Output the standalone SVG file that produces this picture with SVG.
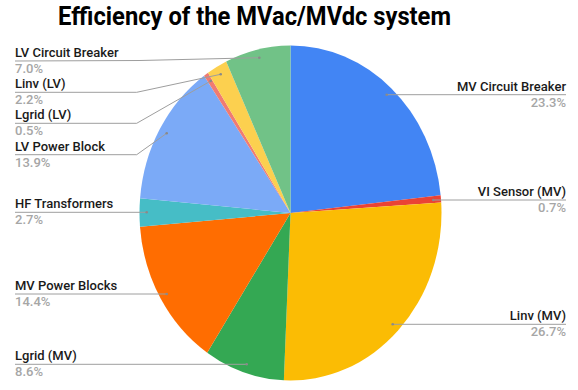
<svg xmlns="http://www.w3.org/2000/svg" width="578" height="390" viewBox="0 0 578 390">
<style>
.title{font-family:Roboto,"Liberation Sans",sans-serif;font-weight:700;font-size:25px;fill:#000}
.lbl{font-family:Roboto,"Liberation Sans",sans-serif;font-weight:500;font-size:13px;fill:#1a1a1a}
.pct{font-family:Roboto,"Liberation Sans",sans-serif;font-weight:500;font-size:13px;fill:#a6a6a6}
.r{text-anchor:end}
.lead{fill:none;stroke:#9e9e9e;stroke-width:1}
.dot{fill:#8a8a8a}
</style>
<rect width="578" height="390" fill="#fff"/>
<text class="title" x="58" y="24.5" textLength="393" lengthAdjust="spacingAndGlyphs">Efficiency of the MVac/MVdc system</text>
<g id="pie">
<path id="s-mvcb" d="M290.5 213 L290.5 45.5 A151 167.5 0 0 1 440.64 195.14 Z" fill="#4285F4"/>
<path id="s-vi" d="M290.5 213 L440.64 195.14 A151 167.5 0 0 1 441.2 202.48 Z" fill="#EA4335"/>
<path id="s-linvmv" d="M290.5 213 L441.2 202.48 A151 167.5 0 0 1 283.86 380.33 Z" fill="#FBBC04"/>
<path id="s-lgridmv" d="M290.5 213 L283.86 380.33 A151 167.5 0 0 1 207.2 352.7 Z" fill="#34A853"/>
<path id="s-mvpb" d="M290.5 213 L207.2 352.7 A151 167.5 0 0 1 140.0 226.67 Z" fill="#FF6D01"/>
<path id="s-hf" d="M290.5 213 L140.0 226.67 A151 167.5 0 0 1 140.08 198.28 Z" fill="#46BDC6"/>
<path id="s-lvpb" d="M290.5 213 L140.08 198.28 A151 167.5 0 0 1 204.05 75.66 Z" fill="#7BAAF7"/>
<path id="s-lgridlv" d="M290.5 213 L204.05 75.66 A151 167.5 0 0 1 207.99 72.71 Z" fill="#F07B72"/>
<path id="s-linvlv" d="M290.5 213 L207.99 72.71 A151 167.5 0 0 1 226.21 61.44 Z" fill="#FCD04F"/>
<path id="s-lvcb" d="M290.5 213 L226.21 61.44 A151 167.5 0 0 1 290.5 45.5 Z" fill="#71C287"/>
</g>
<g id="connectors">
<polyline class="lead" points="15,61 140,60.5 259.3,57.7"/>
<polyline class="lead" points="15,92.3 136.7,92.3 220.7,74.3"/>
<polyline class="lead" points="15,123.3 136.7,123.3 210.7,81"/>
<polyline class="lead" points="15,154.7 136.7,154.7 166.7,133.3"/>
<polyline class="lead" points="15,212.3 146.7,212.3"/>
<polyline class="lead" points="15,294 166.7,294"/>
<polyline class="lead" points="15,364.3 246.7,364.3"/>
<polyline class="lead" points="386.7,94.7 566,94.7"/>
<polyline class="lead" points="433.3,200 566,200"/>
<polyline class="lead" points="392.7,324.3 566,324.3"/>
<circle class="dot" cx="259.3" cy="57.7" r="1.3"/>
<circle class="dot" cx="220.7" cy="74.3" r="1.3"/>
<circle class="dot" cx="210.7" cy="81" r="1.3"/>
<circle class="dot" cx="166.7" cy="133.3" r="1.3"/>
<circle class="dot" cx="146.7" cy="212.3" r="1.3"/>
<circle class="dot" cx="166.7" cy="294" r="1.3"/>
<circle class="dot" cx="246.7" cy="364.3" r="1.3"/>
<circle class="dot" cx="386.7" cy="94.7" r="1.3"/>
<circle class="dot" cx="433.3" cy="200" r="1.3"/>
<circle class="dot" cx="392.7" cy="324.3" r="1.3"/>
</g>
<g id="label-lvcb"><text class="lbl" x="15" y="57">LV Circuit Breaker</text><text class="pct" x="15" y="73">7.0%</text></g>
<g id="label-linvlv"><text class="lbl" x="15" y="88.3">Linv (LV)</text><text class="pct" x="15" y="104.3">2.2%</text></g>
<g id="label-lgridlv"><text class="lbl" x="15" y="119.3">Lgrid (LV)</text><text class="pct" x="15" y="135.3">0.5%</text></g>
<g id="label-lvpb"><text class="lbl" x="15" y="150.7">LV Power Block</text><text class="pct" x="15" y="166.7">13.9%</text></g>
<g id="label-hf"><text class="lbl" x="15" y="208.3">HF Transformers</text><text class="pct" x="15" y="224.3">2.7%</text></g>
<g id="label-mvpb"><text class="lbl" x="15" y="290">MV Power Blocks</text><text class="pct" x="15" y="306">14.4%</text></g>
<g id="label-lgridmv"><text class="lbl" x="15" y="360.3">Lgrid (MV)</text><text class="pct" x="15" y="376.3">8.6%</text></g>
<g id="label-mvcb"><text class="lbl r" x="566" y="90.7">MV Circuit Breaker</text><text class="pct r" x="566" y="106.7">23.3%</text></g>
<g id="label-vi"><text class="lbl r" x="566" y="196">VI Sensor (MV)</text><text class="pct r" x="566" y="212">0.7%</text></g>
<g id="label-linvmv"><text class="lbl r" x="566" y="320.3">Linv (MV)</text><text class="pct r" x="566" y="336.3">26.7%</text></g>
</svg>
